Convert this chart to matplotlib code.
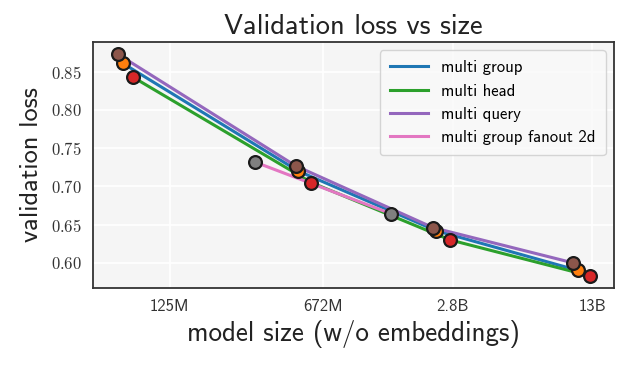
import matplotlib
matplotlib.use("agg")
import matplotlib.pyplot as plt
from matplotlib.ticker import FixedLocator, FuncFormatter, NullLocator

plt.rcParams['mathtext.fontset'] = 'cm'
plt.rcParams['font.family'] = ['cmss10', 'DejaVu Sans']
plt.rcParams['axes.unicode_minus'] = False

# model sizes (w/o embeddings) and validation loss
group_size = [74.7e6, 514e6, 2.34e9, 11.1e9]
group_loss = [0.861, 0.720, 0.642, 0.590]

head_size = [83.4e6, 593e6, 2.72e9, 12.6e9]
head_loss = [0.843, 0.705, 0.630, 0.583]

query_size = [70.7e6, 498e6, 2.26e9, 10.5e9]
query_loss = [0.873, 0.727, 0.646, 0.600]

fanout_size = [318e6, 1.43e9]
fanout_loss = [0.732, 0.664]

xticks = [125e6, 672e6, 2.8e9, 13e9]
xtick_labels = ['125M', '672M', '2.8B', '13B']
yticks = [0.60, 0.65, 0.70, 0.75, 0.80, 0.85]

fig = plt.figure(figsize=(6.35, 3.78), dpi=100)
ax = fig.add_axes([0.147, 0.238, 0.820, 0.651])
ax.set_facecolor('#f5f5f5')

series = [
    (group_size, group_loss, 'tab:blue', 'tab:orange', 'multi group'),
    (head_size, head_loss, 'tab:green', 'tab:red', 'multi head'),
    (query_size, query_loss, 'tab:purple', 'tab:brown', 'multi query'),
    (fanout_size, fanout_loss, 'tab:pink', 'tab:gray', 'multi group fanout 2d'),
]
for xs, ys, lc, mc, name in series:
    ax.plot(xs, ys, color=lc, lw=2.2, label=name, zorder=2)
for xs, ys, lc, mc, name in series:
    ax.scatter(xs, ys, s=85, color=mc, edgecolor='#1a1a1a', linewidth=1.6, zorder=3)

ax.set_xscale('log')
ax.set_xlim(54e6, 16.5e9)
ax.set_ylim(0.567, 0.889)
ax.xaxis.set_major_locator(FixedLocator(xticks))
ax.xaxis.set_minor_locator(NullLocator())
ax.set_xticklabels(xtick_labels, fontsize=12, color='#333333')
ax.set_yticks(yticks)
ax.yaxis.set_major_formatter(FuncFormatter(lambda v, p: '$%.2f$' % v))
ax.tick_params(axis='y', labelsize=12, colors='#333333')
ax.tick_params(length=0, pad=8)
ax.grid(True, color='white', lw=1.2)
ax.set_axisbelow(True)
for sp in ax.spines.values():
    sp.set_color('#333333')
    sp.set_linewidth(1.3)

ax.set_title('Validation loss vs size', fontsize=20.5, color='#222222', pad=6)
ax.set_xlabel('model size (w/o embeddings)', fontsize=19.5, color='#222222', labelpad=4)
ax.set_ylabel('validation loss', fontsize=19, color='#222222', labelpad=6)

leg = ax.legend(loc='upper right', fontsize=12, frameon=True, handlelength=2.3,
                borderpad=0.6, labelspacing=0.5)
leg.get_frame().set_facecolor('#fafafa')
leg.get_frame().set_edgecolor('#cccccc')

plt.savefig('out.png', dpi=100)
plt.close()
